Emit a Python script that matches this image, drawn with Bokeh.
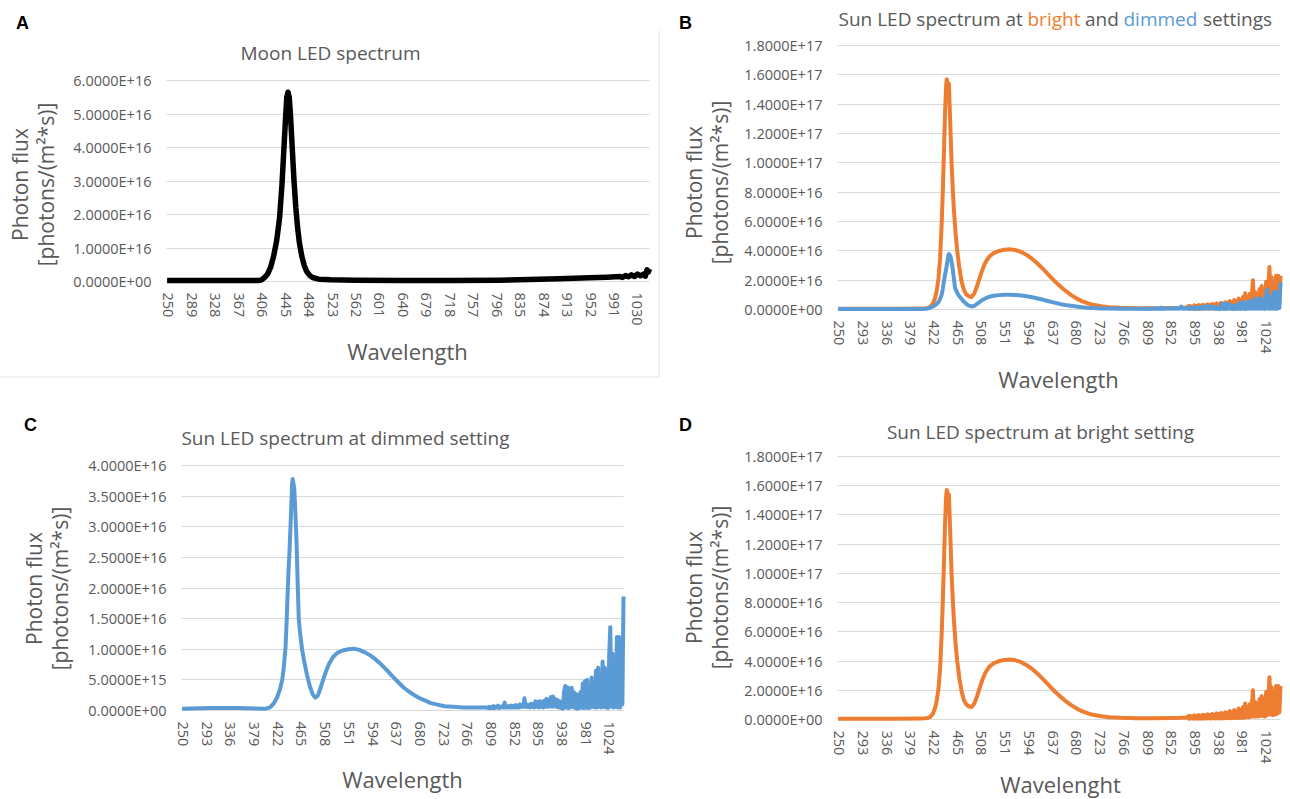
import numpy as np
from bokeh.plotting import figure
from bokeh.models import (Range1d, FixedTicker, CustomJSTickFormatter, Label, LinearAxis,
                          Grid, BoxAnnotation)
from bokeh.layouts import column, row
from bokeh.embed import file_html
from bokeh.resources import INLINE

UNIT = 1e16  # all flux values below are in units of 1E+16 photons/(m^2*s)

# ---------------- Moon LED (panel A) ----------------
moon_wl = [248, 300, 350, 400, 405, 410, 415, 420, 425, 430, 435, 439, 442, 445, 447, 449,
           451, 453, 456, 459, 462, 465, 468, 472, 476, 480, 485, 490, 500, 520, 560, 640,
           720, 800, 850, 900, 950, 980, 1000, 1005, 1010, 1015, 1020, 1025, 1030, 1035,
           1040, 1043, 1046, 1048, 1050]
moon_flux = [0.03, 0.03, 0.03, 0.03, 0.05, 0.12, 0.22, 0.42, 0.75, 1.2, 1.9, 2.9, 3.9, 4.9, 5.5, 5.65,
             5.5, 5.0, 4.0, 3.0, 2.2, 1.6, 1.15, 0.75, 0.48, 0.3, 0.18, 0.12, 0.07, 0.05, 0.04, 0.03,
             0.03, 0.04, 0.06, 0.08, 0.11, 0.13, 0.15, 0.12, 0.18, 0.14, 0.2, 0.15, 0.22, 0.17,
             0.22, 0.16, 0.35, 0.28, 0.38]

# ---------------- Sun LED, bright setting (panels B, D) ----------------
bright_wl = [248, 300, 350, 400, 410, 415, 420, 424, 427, 430, 433, 436, 438, 440, 442, 444, 445,
             447, 448, 449, 450, 452, 454, 456, 458, 461, 464, 468, 472, 476, 480, 485, 490, 495,
             500, 505, 510, 515, 522, 530, 540, 550, 560, 570, 580, 590, 600, 610, 620, 630, 640,
             650, 660, 670, 680, 690, 700, 710, 725, 740, 760, 790, 820, 850, 870, 880,
             882, 884, 886, 888, 890, 892, 894, 896, 898, 900, 902, 904, 906, 908, 910, 912, 914,
             916, 918, 920, 922, 924, 926, 928, 930, 932, 934, 936, 938, 940, 942, 944, 946, 948,
             950, 952, 954, 956, 958, 960, 962, 964, 966, 968, 970, 972, 974, 976, 978, 980, 982,
             984, 986, 988, 990, 992, 994, 996, 998, 1000, 1002, 1004, 1006, 1008, 1010, 1012,
             1014, 1016, 1018, 1020, 1022, 1024, 1026, 1028, 1030, 1032, 1034, 1036, 1038, 1040,
             1042, 1044, 1046, 1048, 1050]
bright_flux = [0.05, 0.05, 0.05, 0.06, 0.1, 0.18, 0.4, 0.8, 1.3, 2.1, 3.5, 6.0, 8.2, 10.8, 13.5, 15.3, 15.7,
               15.4, 15.0, 15.4, 14.2, 12.0, 9.8, 8.2, 6.8, 5.2, 4.0, 2.8, 1.9, 1.35, 1.05, 0.9, 0.85, 1.1,
               1.6, 2.2, 2.75, 3.2, 3.6, 3.85, 4.0, 4.08, 4.1, 4.05, 3.92, 3.72, 3.45, 3.12, 2.75, 2.35, 1.95,
               1.6, 1.28, 1.0, 0.76, 0.57, 0.43, 0.32, 0.22, 0.16, 0.12, 0.09, 0.08, 0.1, 0.12, 0.14,
               0.22, 0.06, 0.25, 0.07, 0.2, 0.06, 0.28, 0.07, 0.24, 0.06, 0.3, 0.07, 0.26, 0.06, 0.32, 0.08, 0.28,
               0.07, 0.35, 0.08, 0.3, 0.07, 0.38, 0.08, 0.33, 0.07, 0.42, 0.08, 0.36, 0.07, 0.45, 0.08, 0.4, 0.09,
               0.5, 0.08, 0.45, 0.1, 0.58, 0.09, 0.5, 0.1, 0.65, 0.1, 0.55, 0.12, 0.75, 0.1, 0.62, 0.12, 0.85,
               0.12, 1.1, 0.15, 0.8, 0.15, 1.05, 0.18, 0.9, 2.0, 0.2, 1.2, 0.2, 1.0, 0.2, 1.4,
               0.25, 1.6, 0.25, 1.3, 0.2, 1.9, 0.3, 1.5, 2.9, 0.35, 2.2, 0.3, 1.8, 0.35,
               2.3, 0.4, 2.3, 0.5, 2.3]

# ---------------- Sun LED, dimmed setting (panels B, C) ----------------
dimmed_wl = [248, 300, 350, 400, 408, 415, 421, 426, 430, 433, 436, 438, 440, 442, 443, 445, 446.5,
             448, 449, 450.5, 452, 454, 456, 458, 460, 462, 466, 470, 475, 480, 485, 490, 495, 500,
             505, 510, 515, 522, 530, 540, 550, 560, 570, 580, 590, 600, 610, 620, 630, 640, 650,
             660, 670, 680, 690, 700, 710, 725, 740, 760, 790, 800,
             802, 804, 806, 808, 810, 812, 814, 816, 818, 820, 822, 824, 826, 828, 830, 832, 834,
             836, 838, 840, 842, 844, 846, 848, 850, 852, 854, 856, 858, 860, 862, 864, 866, 868,
             870, 872, 874, 876, 878, 880, 882, 884, 886, 888, 890, 892, 894, 896, 898, 900, 902,
             904, 906, 908, 910, 912, 914, 916, 918, 920, 922, 924, 926, 928, 930, 932, 934, 936,
             938, 940, 942, 944, 946, 948, 950, 952, 954, 956, 958, 960, 962, 964, 966, 968, 970,
             972, 974, 976, 978, 980, 982, 984, 986, 988, 990, 992, 994, 996, 998, 1000, 1002,
             1004, 1006, 1008, 1010, 1012, 1014, 1016, 1018, 1020, 1022, 1024, 1026, 1028, 1030,
             1032, 1034, 1036, 1038, 1040, 1042, 1044, 1046, 1048, 1050]
dimmed_flux = [0.03, 0.04, 0.04, 0.03, 0.05, 0.12, 0.22, 0.35, 0.5, 0.72, 1.03, 1.45, 1.96, 2.4, 2.55, 3.0, 3.35,
               3.7, 3.78, 3.7, 3.6, 3.2, 2.75, 2.1, 1.5, 1.3, 1.0, 0.8, 0.58, 0.4, 0.27, 0.21, 0.25, 0.38,
               0.52, 0.65, 0.76, 0.87, 0.94, 0.98, 1.0, 1.01, 0.99, 0.95, 0.9, 0.83, 0.75, 0.66, 0.56, 0.47, 0.38,
               0.31, 0.25, 0.2, 0.16, 0.12, 0.1, 0.07, 0.06, 0.05, 0.05, 0.05,
               0.05, 0.04, 0.06, 0.04, 0.06, 0.04, 0.07, 0.04, 0.06, 0.05, 0.08, 0.04, 0.06, 0.05, 0.07, 0.05, 0.13,
               0.05, 0.07, 0.05, 0.07, 0.05, 0.08, 0.05, 0.07, 0.05, 0.09, 0.05, 0.08, 0.05, 0.1, 0.06, 0.09, 0.06,
               0.2, 0.06, 0.1, 0.06, 0.09, 0.05, 0.11, 0.06, 0.1, 0.05, 0.15, 0.06, 0.14, 0.05, 0.15, 0.06, 0.14,
               0.05, 0.16, 0.06, 0.19, 0.06, 0.17, 0.07, 0.22, 0.06, 0.23, 0.07, 0.19, 0.06, 0.17, 0.05, 0.15, 0.04,
               0.1, 0.03, 0.3, 0.4, 0.05, 0.38, 0.04, 0.36, 0.05, 0.37, 0.06, 0.3, 0.04, 0.27, 0.03, 0.25, 0.04,
               0.3, 0.05, 0.44, 0.04, 0.48, 0.05, 0.5, 0.04, 0.4, 0.05, 0.54, 0.06, 0.45, 0.05, 0.65, 0.05,
               0.7, 0.06, 0.6, 0.05, 0.8, 0.06, 0.7, 0.05, 0.6, 0.04, 0.9, 1.36, 0.06, 0.93,
               0.05, 0.8, 0.06, 1.2, 0.05, 1.2, 0.05, 0.9, 0.1, 1.86]

# ---------------- axes ----------------
ticks_a = list(range(250, 1031, 39))
ticks_bcd = list(range(250, 1025, 43))
yticks_a = [0, 1, 2, 3, 4, 5, 6]
yticks_bd = [0, 2, 4, 6, 8, 10, 12, 14, 16, 18]
yticks_c = [0, 0.5, 1, 1.5, 2, 2.5, 3, 3.5, 4]
WL_MIN, WL_MAX = 247, 1050

TEXT = "#595959"
GRID = "#D9D9D9"
ORANGE = "#ED7D31"
BLUE = "#5B9BD5"
FONT = "Open Sans"
YT_SIZE = "21px"

FMT = CustomJSTickFormatter(code="""
let s = tick.toExponential(4).toUpperCase();
return s.replace(/E([+-])(\\d)$/, 'E$10$2');
""")


class Panel:
    def __init__(self, fx, fy, W, H, l, r, t, b, yticks, xticks):
        """fx, fy: figure origin on page; l, r, t, b: plot-area edges on page."""
        self.fx, self.fy, self.W, self.H = fx, fy, W, H
        ymax = yticks[-1] * UNIT
        l, r, t, b = l - fx, r - fx, t - fy, b - fy
        sx = (WL_MAX - WL_MIN) / (r - l)
        sy = ymax / (b - t)
        p = figure(width=W, height=H, output_backend="svg", toolbar_location=None,
                   x_range=Range1d(WL_MIN - l * sx, WL_MAX + (W - r) * sx),
                   y_range=Range1d(-(H - b) * sy, ymax + t * sy),
                   min_border=0, x_axis_location=None, y_axis_location=None)
        p.outline_line_color = None
        p.xgrid.visible = False
        p.ygrid.visible = False
        yt = [v * UNIT for v in yticks]
        p.add_layout(Grid(dimension=1, ticker=FixedTicker(ticks=yt), cross_bounds=(WL_MIN, WL_MAX),
                          grid_line_color=GRID, grid_line_width=1))
        xa = LinearAxis(fixed_location=0, ticker=FixedTicker(ticks=xticks), bounds=(WL_MIN, WL_MAX))
        ya = LinearAxis(fixed_location=WL_MIN, ticker=FixedTicker(ticks=yt), formatter=FMT,
                        bounds=(0, ymax))
        for ax in (xa, ya):
            ax.axis_line_color = None
            ax.major_tick_line_color = None
            ax.minor_tick_line_color = None
            ax.major_tick_out = 0
            ax.major_tick_in = 0
            ax.minor_tick_out = 0
            ax.minor_tick_in = 0
            ax.major_label_text_font = FONT
            ax.major_label_text_font_size = "14.5px"
            ax.major_label_text_color = TEXT
        xa.major_label_orientation = "vertical"
        xa.major_label_standoff = 11
        ya.major_label_standoff = 15
        p.add_layout(xa, "below")
        p.add_layout(ya, "left")
        self.p = p

    def text(self, px, py, text, size, color=TEXT, angle=0.0, bold=False, font=FONT, align="center"):
        self.p.add_layout(Label(x=px - self.fx, y=self.fy + self.H - py, x_units="screen",
                                y_units="screen", text=text, text_font=font, text_font_size=size,
                                text_color=color, text_align=align, text_baseline="middle",
                                angle=angle, text_font_style="bold" if bold else "normal"))

    def box(self, left, right, top, bottom, color):
        self.p.add_layout(BoxAnnotation(left=left - self.fx, right=right - self.fx,
                                        top=self.fy + self.H - top, bottom=self.fy + self.H - bottom,
                                        left_units="screen", right_units="screen",
                                        top_units="screen", bottom_units="screen",
                                        fill_color=color, fill_alpha=1, line_color=None))


def scaled(vals):
    return [v * UNIT for v in vals]


YLAB = "[photons/(m\u00b2*s)]"

# ---- Panel A ----
A = Panel(0, 0, 660, 400, 166, 649, 80, 281, yticks_a, ticks_a)
A.box(0, 659, 376, 377, "#E3E3E3")
A.box(658, 659, 30, 377, "#E3E3E3")
A.p.line(moon_wl, scaled(moon_flux), line_color="black", line_width=5.5, line_join="round")
A.text(22, 22, "A", "18px", color="black", bold=True, font="Liberation Sans")
A.text(330, 52, "Moon LED spectrum", "19px")
A.text(407, 350, "Wavelength", "22px")
A.text(19, 184, "Photon flux", YT_SIZE, angle=np.pi / 2)
A.text(45, 184, YLAB, YT_SIZE, angle=np.pi / 2)

# ---- Panel B ----
B = Panel(660, 0, 630, 400, 837, 1280, 45, 309, yticks_bd, ticks_bcd)
B.p.line(bright_wl, scaled(bright_flux), line_color=ORANGE, line_width=4, line_join="round")
B.p.line(dimmed_wl, scaled(dimmed_flux), line_color=BLUE, line_width=4, line_join="round")
B.text(685, 22, "B", "18px", color="black", bold=True, font="Liberation Sans")
title_parts = [("Sun LED spectrum at", TEXT, 838), ("bright", ORANGE, 1027), ("and", TEXT, 1084.5),
               ("dimmed", BLUE, 1123), ("settings", TEXT, 1202.5)]
for t, c, x0 in title_parts:
    B.text(x0, 18, t, "19px", color=c, align="left")
B.text(1058, 378, "Wavelength", "22px")
B.text(693, 182, "Photon flux", YT_SIZE, angle=np.pi / 2)
B.text(719, 182, YLAB, YT_SIZE, angle=np.pi / 2)

# ---- Panel C ----
C = Panel(0, 400, 660, 399, 181, 623, 465, 710, yticks_c, ticks_bcd)
C.p.line(dimmed_wl, scaled(dimmed_flux), line_color=BLUE, line_width=4, line_join="round")
C.text(30, 424, "C", "18px", color="black", bold=True, font="Liberation Sans")
C.text(345, 437, "Sun LED spectrum at dimmed setting", "19px")
C.text(402, 778, "Wavelength", "22px")
C.text(33, 588, "Photon flux", YT_SIZE, angle=np.pi / 2)
C.text(59, 588, YLAB, YT_SIZE, angle=np.pi / 2)

# ---- Panel D ----
D = Panel(660, 400, 630, 399, 837, 1280, 456, 719, yticks_bd, ticks_bcd)
D.p.line(bright_wl, scaled(bright_flux), line_color=ORANGE, line_width=4, line_join="round")
D.text(685, 424, "D", "18px", color="black", bold=True, font="Liberation Sans")
D.text(1040, 431, "Sun LED spectrum at bright setting", "19px")
D.text(1060, 783, "Wavelenght", "22px")
D.text(693, 587, "Photon flux", YT_SIZE, angle=np.pi / 2)
D.text(719, 587, YLAB, YT_SIZE, angle=np.pi / 2)

layout = column(row(A.p, B.p, spacing=0), row(C.p, D.p, spacing=0), spacing=0)
open("out.html", "w").write(file_html(layout, INLINE))
